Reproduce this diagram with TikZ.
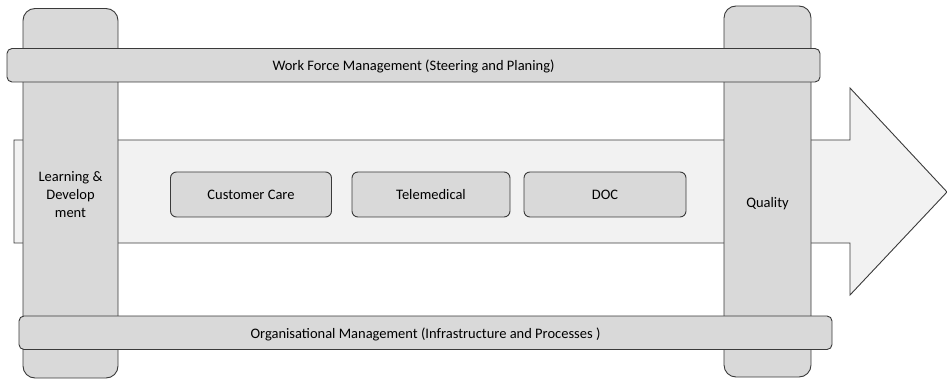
\documentclass[tikz,border=0pt]{standalone}
\usepackage{fontspec}
\setmainfont{Carlito}
\definecolor{boxfill}{HTML}{D9D9D9}
\definecolor{arrowfill}{HTML}{F2F2F2}
\definecolor{edge}{HTML}{3A3A3A}
\begin{document}
\begin{tikzpicture}[x=1pt,y=-1pt,
  column/.style={draw=edge, fill=boxfill, line width=0.9pt, rounded corners=12pt, inner sep=0pt, outer sep=0pt},
  bar/.style={draw=edge, fill=boxfill, line width=0.9pt, rounded corners=5pt, inner sep=0pt, outer sep=0pt, text height=14.5pt, text depth=3.6pt, font=\fontsize{14.5}{17}\selectfont},
  unit/.style={draw=edge, fill=boxfill, line width=0.9pt, rounded corners=6pt, inner sep=0pt, outer sep=0pt, minimum height=45pt, font=\fontsize{14.5}{17}\selectfont},
  label/.style={inner sep=0pt, font=\fontsize{14.5}{18}\selectfont, align=center}
]
\useasboundingbox (0,0) rectangle (947,379);
% big arrow
\draw[draw=edge, fill=arrowfill, line width=0.9pt]
  (14,140) -- (850,140) -- (850,88) -- (947,192) -- (850,295) -- (850,243) -- (14,243) -- cycle;
% columns
\node[column, minimum width=95pt, minimum height=369.5pt] (ld) at (70.5,193.25) {};
\node[column, minimum width=87pt, minimum height=371pt] (qual) at (767.5,191.5) {};
% bars
\node[bar, minimum width=813pt, minimum height=33.5pt] (wfm) at (413.5,65.25) {Work Force Management (Steering and Planing)};
\node[bar, minimum width=813pt, minimum height=33.5pt] (org) at (425.5,332.75) {Organisational Management (Infrastructure and Processes )};
% units
\node[unit, minimum width=161pt] (cc) at (251,194.5) {Customer Care};
\node[unit, minimum width=158pt] (tele) at (431,194.5) {Telemedical};
\node[unit, minimum width=162pt] (doc) at (605,194.5) {DOC};
% column texts
\node[label] (ldtext) at (70.5,195) {Learning \&\\Develop\\ment};
\node[label] (qtext) at (767.5,203.5) {Quality};
\end{tikzpicture}
\end{document}
